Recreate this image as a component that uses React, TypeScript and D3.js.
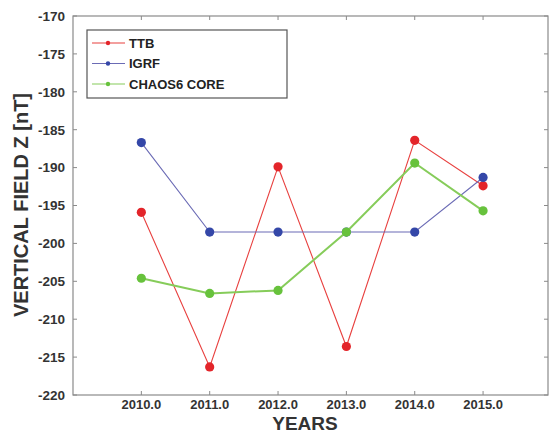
import React from "react";
import * as d3 from "d3";

const years = [2010, 2011, 2012, 2013, 2014, 2015];
const ttb = [-195.9, -216.3, -189.9, -213.6, -186.4, -192.4];
const igrf = [-186.7, -198.5, -198.5, -198.5, -198.5, -191.3];
const chaos = [-204.6, -206.6, -206.2, -198.5, -189.4, -195.7];
const yTicks = [-170, -175, -180, -185, -190, -195, -200, -205, -210, -215, -220];
const seriesNames = ["TTB", "IGRF", "CHAOS6 CORE"];

const W = 549, H = 434;
const L = 73, R = 548, T = 16, B = 395;

export default function App() {
  const x = d3.scaleLinear().domain([2009, 2015.95]).range([L, R]);
  const y = d3.scaleLinear().domain([-220, -170]).range([B, T]);
  const series = [
    { name: seriesNames[0], vals: ttb, line: "#e8403f", dot: "#e3252a", w: 1.1 },
    { name: seriesNames[1], vals: igrf, line: "#6b6bb5", dot: "#3447a8", w: 1.1 },
    { name: seriesNames[2], vals: chaos, line: "#86cc5a", dot: "#67c23c", w: 2 },
  ];
  const line = d3.line<[number, number]>().x(d => x(d[0])).y(d => y(d[1]));
  const font = "'Liberation Sans', Arial, Helvetica, sans-serif";
  const axisColor = "#8a8a8a";
  return (
    <svg width={W} height={H} style={{ position: "absolute", left: 0, top: 0 }} fontFamily={font}>
      <rect x={0} y={0} width={W} height={H} fill="#fff" />
      {yTicks.map(t => (
        <g key={"y" + t}>
          <line x1={L} x2={L + 4} y1={y(t)} y2={y(t)} stroke={axisColor} />
          <line x1={R - 4} x2={R} y1={y(t)} y2={y(t)} stroke={axisColor} />
          <text x={65} y={y(t)} dy="0.36em" textAnchor="end" fontSize={13.5} fontWeight="bold" fill="#333">{t}</text>
        </g>
      ))}
      {years.map(t => (
        <g key={"x" + t}>
          <line x1={x(t)} x2={x(t)} y1={B} y2={B - 4} stroke={axisColor} />
          <line x1={x(t)} x2={x(t)} y1={T} y2={T + 4} stroke={axisColor} />
          <text x={x(t)} y={409} textAnchor="middle" fontSize={13} fontWeight="bold" fill="#333">{t.toFixed(1)}</text>
        </g>
      ))}
      <rect x={L} y={T} width={R - L} height={B - T} fill="none" stroke={axisColor} strokeWidth={1.2} />
      {series.map(s => (
        <g key={s.name}>
          <path d={line(years.map((yr, i) => [yr, s.vals[i]]) as [number, number][]) || ""} fill="none" stroke={s.line} strokeWidth={s.w} />
          {years.map((yr, i) => (
            <circle key={yr} cx={x(yr)} cy={y(s.vals[i])} r={4.6} fill={s.dot} />
          ))}
        </g>
      ))}
      <rect x={87} y={30} width={200} height={68} fill="#fff" stroke="#555" strokeWidth={1.2} />
      {series.map((s, i) => (
        <g key={"lg" + s.name}>
          <line x1={92} x2={125} y1={43 + i * 20.5} y2={43 + i * 20.5} stroke={s.line} strokeWidth={1.2} />
          <circle cx={108} cy={43 + i * 20.5} r={2.2} fill={s.dot} />
          <text x={129} y={43 + i * 20.5} dy="0.36em" fontSize={13} fontWeight="bold" fill="#222">{s.name}</text>
        </g>
      ))}
      <text transform={`translate(28,${205}) rotate(-90)`} textAnchor="middle" fontSize={20} fontWeight="bold" fill="#333">VERTICAL FIELD Z [nT]</text>
      <text x={305} y={430} textAnchor="middle" fontSize={19} fontWeight="bold" fill="#333">YEARS</text>
    </svg>
  );
}
